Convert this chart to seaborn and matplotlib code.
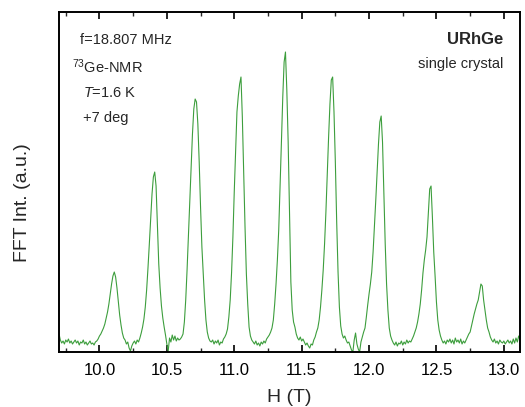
import numpy as np
import pandas as pd
import matplotlib
matplotlib.use("Agg")
import matplotlib.pyplot as plt
from matplotlib.ticker import MultipleLocator
import seaborn as sns

field_start = 9.70
field_step = 0.01
intensity = [
    18, 12, 9, 11, 8, 12, 10, 13, 9, 11, 8, 10, 12, 9, 11, 7, 10, 9, 12, 8, 10, 7, 9, 11, 8, 9, 7, 10, 11, 13,  # 9.70
    16, 18, 21, 24, 28, 34, 40, 48, 58, 68, 76, 80, 75, 64, 50, 37, 27, 19, 14, 12, 8, 10, 4, 1, 6, 9,  # 10.00
    11, 8, 12, 10,  # 10.26
    14, 19, 25, 33, 45, 62, 84, 108, 134, 158, 175, 180, 166, 128, 88, 64, 46, 34, 25, 17, 8, 1, 14,  # 10.30
    10, 17, 12, 16, 11, 14, 12,  # 10.53
    13, 15, 18, 30, 52, 82, 115, 150, 185, 218, 243, 253, 250, 228, 190, 145, 105, 78, 52, 32, 20, 14, 11,  # 10.60
    10, 12, 8, 11, 9, 12, 7, 10, 9, 13, 15,  # 10.83
    18, 23, 35, 52, 79, 115, 160, 200, 240, 256, 268, 275, 235, 180, 125, 78, 48, 25, 16, 12,  # 10.94
    10, 8, 11, 7, 9, 6, 10, 8, 11, 9, 13, 15,  # 11.14
    17, 20, 24, 32, 48, 68, 92, 122, 165, 210, 255, 290, 300, 262, 210, 140, 70, 42, 30, 25,  # 11.26
    18, 14, 12, 15, 11, 13, 10, 7, 9, 6, 4, 8, 7, 12, 15, 20,  # 11.46
    24, 32, 45, 62, 82, 108, 140, 178, 215, 248, 272, 275, 240, 190, 130, 80, 45, 26, 18,  # 11.62
    14, 16, 12, 9, 10, 6, 2, 0, 12, 19, 8, 3, 0, 10, 15, 20,  # 11.81
    24, 35, 47, 58, 68, 80, 100, 125, 152, 180, 208, 230, 236, 210, 160, 108, 68, 42, 24, 16, 12,  # 11.97
    9, 7, 10, 6, 9, 8, 11, 7, 10, 8, 12, 9, 11, 10, 13, 16, 20, 24,  # 12.18
    30, 38, 48, 62, 79, 92, 102, 115, 140, 163, 166, 135, 100, 76, 50, 32, 22, 16,  # 12.36
    12, 9, 11, 8, 12, 10, 13, 9, 12, 8, 14, 10, 12, 9, 13, 8, 11, 9, 12, 15, 18,  # 12.54
    20, 26, 32, 38, 43, 48, 52, 60, 68, 66, 52, 42, 32, 24, 20, 15,  # 12.75
    12, 10, 13, 9, 11, 8, 12, 10, 9, 11, 8, 10, 12, 9, 11, 8, 13, 9, 14, 10, 16, 12,  # 12.91
]
field = np.round(field_start + field_step * np.arange(len(intensity)), 2)

x_ticks = [10.0, 10.5, 11.0, 11.5, 12.0, 12.5, 13.0]
left_notes = ["f=18.807 MHz", r"$^{73}$Ge-NMR", r"$\mathit{T}$=1.6 K", "+7 deg"]

df = pd.DataFrame({"H": field, "FFT": intensity})

sns.set_theme(style="ticks")
plt.rcParams["font.family"] = ["Liberation Sans", "DejaVu Sans"]
plt.rcParams["mathtext.fontset"] = "custom"
plt.rcParams["mathtext.rm"] = "Liberation Sans"
plt.rcParams["mathtext.it"] = "Liberation Sans:italic"

fig = plt.figure(figsize=(5.25, 4.07), dpi=100)
ax = fig.add_axes([0.1124, 0.1351, 0.8781, 0.8354])

sns.lineplot(data=df, x="H", y="FFT", ax=ax, color="#3d9e3d", linewidth=0.8, estimator=None)

ax.set_xlim(9.70, 13.12)
ax.set_ylim(0, 340)
ax.set_xticks(x_ticks)
ax.set_xticklabels([f"{t:.1f}" for t in x_ticks], fontsize=12)
ax.xaxis.set_minor_locator(MultipleLocator(0.25))
ax.tick_params(axis="x", which="major", direction="in", length=5, width=1.2, top=True, pad=8, colors="black")
ax.tick_params(axis="x", which="minor", direction="in", length=3, width=1.0, top=True)
ax.set_yticks([])
for sp in ax.spines.values():
    sp.set_linewidth(1.4)
    sp.set_color("black")

ax.set_xlabel("H (T)", fontsize=14, labelpad=8)
ax.set_ylabel("FFT Int. (a.u.)", fontsize=14)
ax.yaxis.set_label_coords(-0.06, 0.44)

ys = [40, 67, 93, 118]
xs = [80, 72, 83, 83]
for txt, xp, yp in zip(left_notes, xs, ys):
    ax.text(xp, 407 - yp, txt, transform=None, fontsize=10.5, va="center", ha="left")

ax.text(503, 407 - 40, "URhGe", transform=None, fontsize=12, fontweight="bold", va="center", ha="right")
ax.text(503, 407 - 64, "single crystal", transform=None, fontsize=10.5, va="center", ha="right")

fig.savefig("out.png", dpi=100)
